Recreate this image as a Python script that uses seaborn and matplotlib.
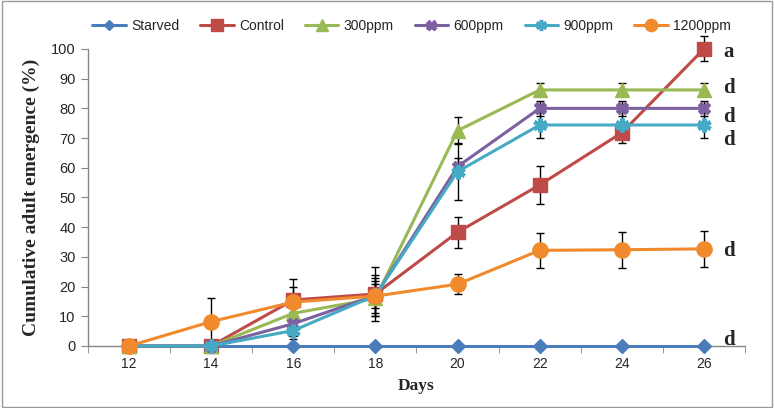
import numpy as np
import pandas as pd
import matplotlib
matplotlib.use("Agg")
import matplotlib.pyplot as plt
from matplotlib.patches import Rectangle
from matplotlib.lines import Line2D
import seaborn as sns

days = [12, 14, 16, 18, 20, 22, 24, 26]
groups = ["Starved", "Control", "300ppm", "600ppm", "900ppm", "1200ppm"]

starved = [0, 0, 0, 0, 0, 0, 0, 0]
control = [0, 0, 15.5, 17.5, 38.3, 54.2, 71.8, 100]
ppm300 = [0, 0, 11, 16, 72.5, 86.2, 86.2, 86.2]
ppm600 = [0, 0, 7.5, 17, 60.4, 80, 80, 80]
ppm900 = [0, 0, 5.2, 17, 58.7, 74.4, 74.4, 74.4]
ppm1200 = [0, 8.2, 14.8, 16.8, 20.8, 32.2, 32.4, 32.7]

err_starved = [0, 0, 0, 0, 0, 0, 0, 0]
err_control = [0, 0, 7, 9, 5.2, 6.5, 3.5, 4.2]
err_300 = [0, 0, 4, 6, 4.5, 2.2, 2.2, 2.2]
err_600 = [0, 0, 4, 7, 3, 2.5, 2.5, 2.5]
err_900 = [0, 0, 2.8, 6, 9.6, 4.5, 4.5, 4.5]
err_1200 = [0, 8, 5, 4, 3.4, 6, 6, 6]

letters = ["a", "d", "d", "d", "d", "d"]
letter_y = [99, 87, 77, 69.5, 32, 2]

values = [starved, control, ppm300, ppm600, ppm900, ppm1200]
errors = [err_starved, err_control, err_300, err_600, err_900, err_1200]

rows = []
for g, v in zip(groups, values):
    for d, y in zip(days, v):
        rows.append({"Days": d, "value": y, "group": g})
df = pd.DataFrame(rows)

colors = ["#4A7EBB", "#BE4B48", "#98B954", "#7D60A0", "#46AAC5", "#F08A2C"]
markers = ["D", "s", "^", "X", (6, 2, 0), "o"]
msizes = [7, 10, 10, 9, 10, 11]

sns.set_style("white")
fig = plt.figure(figsize=(7.74, 4.08), dpi=100)
ax = fig.add_axes([0.1137, 0.152, 0.8488, 0.728])

# error bars first so markers sit on top
for g, v, e in zip(groups, values, errors):
    if max(e) > 0:
        ax.errorbar(days, v, yerr=e, fmt="none", ecolor="black", elinewidth=1,
                    capsize=3, capthick=1, zorder=2, clip_on=False)

sns.lineplot(data=df, x="Days", y="value", hue="group", hue_order=groups,
             palette=colors, linewidth=2.2, legend=False, ax=ax, zorder=3)

for line, c, m, ms in zip(ax.get_lines()[-len(groups):], colors, markers, msizes):
    line.set_marker(m)
    line.set_markersize(ms)
    line.set_markerfacecolor(c)
    line.set_markeredgecolor(c)
    line.set_markeredgewidth(3 if m == (6, 2, 0) else 1)
    line.set_clip_on(False)

ax.set_xlim(11, 27)
ax.set_ylim(0, 100)
ax.set_xticks(days)
ax.set_xticklabels([str(d) for d in days], fontsize=10, family="Liberation Sans")
ax.set_xticks(np.arange(11, 28, 2), minor=True)
ax.tick_params(axis="x", which="major", length=0, pad=8)
ax.tick_params(axis="x", which="minor", length=5, direction="out", color="#868686", bottom=True)
ax.set_yticks(np.arange(0, 101, 10))
ax.set_yticklabels([str(t) for t in range(0, 101, 10)], fontsize=10.5, family="Liberation Sans")
ax.tick_params(axis="y", length=5, direction="out", color="#868686", left=True, pad=4)

for s in ["top", "right"]:
    ax.spines[s].set_visible(False)
for s in ["left", "bottom"]:
    ax.spines[s].set_color("#868686")
    ax.spines[s].set_linewidth(1)

ax.set_xlabel("Days", fontsize=12.5, fontweight="bold", family="Liberation Serif", labelpad=5)
ax.set_ylabel("Cumulative adult emergence (%)", fontsize=14, fontweight="bold",
              family="Liberation Serif", labelpad=8)

for t, y in zip(letters, letter_y):
    ax.text(26.48, y, t, fontsize=15, fontweight="bold", family="Liberation Serif",
            va="center", ha="left", clip_on=False)

handles = [Line2D([0], [0], color=c, marker=m, markersize=ms * 0.8, lw=2.2,
                  markerfacecolor=c, markeredgecolor=c,
                  markeredgewidth=2.5 if m == (6, 2, 0) else 1)
           for c, m, ms in zip(colors, markers, msizes)]
fig.legend(handles, groups, loc="center", bbox_to_anchor=(0.532, 0.936), ncol=6,
           frameon=False, prop={"family": "Liberation Sans", "size": 10},
           handlelength=2.4, columnspacing=1.5, handletextpad=0.4)

fig.patches.append(Rectangle((0.002, 0.003), 0.996, 0.994, transform=fig.transFigure,
                             fill=False, edgecolor="#9a9a9a", lw=1))

fig.savefig("out.png", dpi=100)
